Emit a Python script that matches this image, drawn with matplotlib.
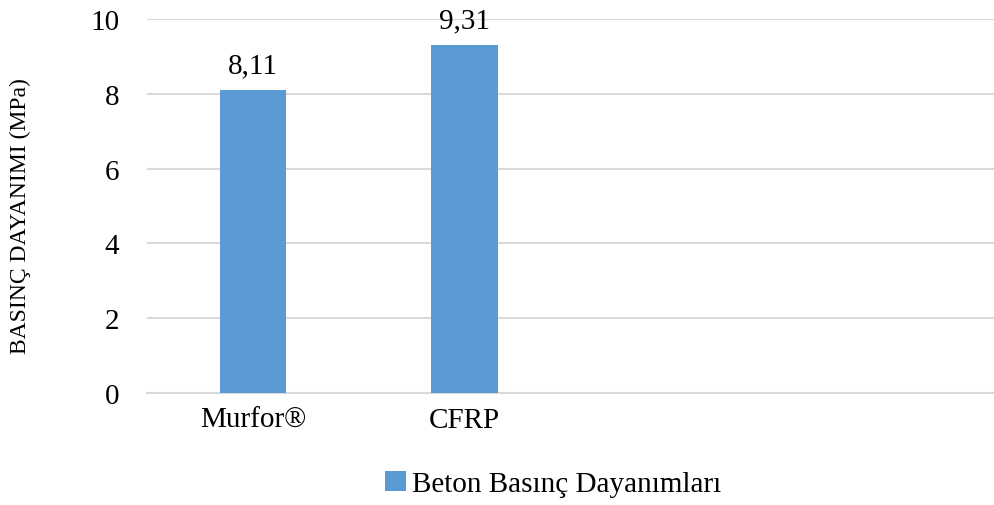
import numpy as np
import matplotlib.pyplot as plt

# chart data
categories = ["Murfor®", "CFRP", "", ""]
values = [8.11, 9.31, np.nan, np.nan]
series_name = "Beton Basınç Dayanımları"
y_label = "BASINÇ DAYANIMI (MPa)"
y_ticks = [0, 2, 4, 6, 8, 10]

BAR_COLOR = "#5b9bd5"
GRID_COLOR = "#d9d9d9"

plt.rcParams["font.family"] = ["Liberation Serif", "DejaVu Serif"]

fig = plt.figure(figsize=(9.94, 5.06), dpi=100)
ax = fig.add_axes([147 / 994, 1 - 394 / 506, 1 - 147 / 994, (394 - 20) / 506])

x = np.arange(len(categories))
bars = ax.bar(x, values, width=0.315, color=BAR_COLOR, label=series_name, zorder=3)

# value labels with decimal comma
for xi, v in zip(x, values):
    if np.isnan(v):
        continue
    ax.annotate(f"{v:.2f}".replace(".", ","), (xi, v), xytext=(0, 8),
                textcoords="offset points", ha="center", va="bottom", fontsize=21)

ax.set_xlim(-0.5, len(categories) - 0.5)
ax.set_ylim(0, 10)
ax.set_yticks(y_ticks)
ax.set_yticklabels([str(t) for t in y_ticks], fontsize=21)
ax.set_xticks(x)
ax.set_xticklabels(categories, fontsize=21)
ax.tick_params(axis="both", length=0)
ax.tick_params(axis="y", pad=20)
ax.tick_params(axis="x", pad=10)

ax.grid(axis="y", color=GRID_COLOR, linewidth=1.5, zorder=0)
for side in ["top", "right", "left"]:
    ax.spines[side].set_visible(False)
ax.spines["bottom"].set_color(GRID_COLOR)
ax.spines["bottom"].set_linewidth(1.5)

fig.text(20 / 994, 1 - 216 / 506, y_label, rotation=90, ha="center", va="center", fontsize=17)

fig.legend(loc="center", bbox_to_anchor=(553 / 994, 1 - 485 / 506), frameon=False,
           fontsize=21, handlelength=0.7, handleheight=0.7, handletextpad=0.2)

fig.savefig("out.png", dpi=100)
